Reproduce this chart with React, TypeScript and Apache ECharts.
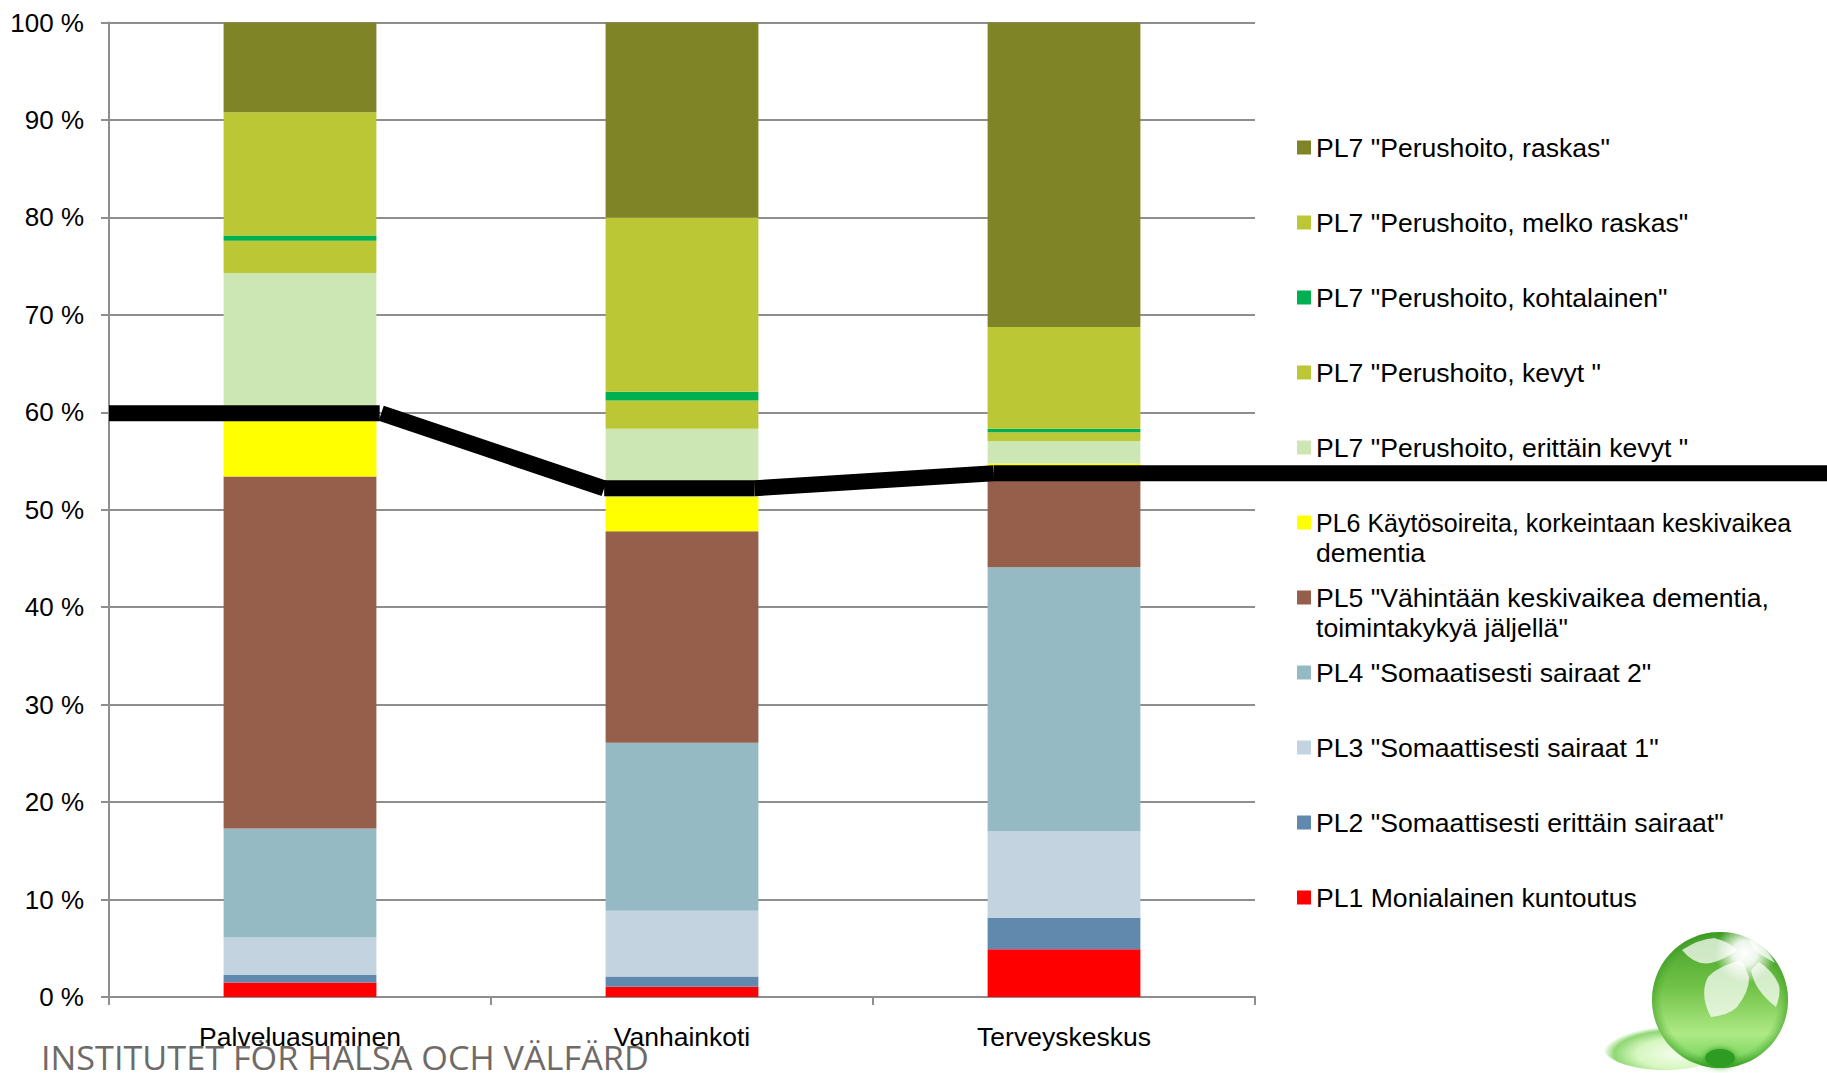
import React, { useEffect, useRef } from "react";
import * as echarts from "echarts";

const FONT = '"Liberation Sans", Arial, sans-serif';

const categories = ["Palveluasuminen", "Vanhainkoti", "Terveyskeskus"];
const tickStep = 10;

// Stacked shares in percent, bottom of the stack first.
const pl1 = [1.5, 1.05, 4.9];
const pl2 = [0.75, 1.05, 3.2];
const pl3 = [3.85, 6.75, 8.9];
const pl4 = [11.2, 17.25, 27.1];
const pl5 = [36.1, 21.7, 9.8];
const pl6 = [6.6, 3.5, 0.85];
const pl7VeryLight = [14.3, 7.0, 2.3];
const pl7Light = [3.3, 2.9, 0.9];
const pl7Moderate = [0.55, 0.9, 0.35];
const pl7FairlyHeavy = [12.65, 17.9, 10.45];
const pl7Heavy = [9.2, 20, 31.25];

const seriesNames = [
  "PL1 Monialainen kuntoutus",
  'PL2 "Somaattisesti erittäin sairaat"',
  'PL3 "Somaattisesti sairaat 1"',
  'PL4 "Somaatisesti sairaat 2"',
  'PL5 "Vähintään keskivaikea dementia, toimintakykyä jäljellä"',
  "PL6 Käytösoireita, korkeintaan keskivaikea dementia",
  'PL7 "Perushoito, erittäin kevyt "',
  'PL7 "Perushoito, kevyt "',
  'PL7 "Perushoito, kohtalainen"',
  'PL7 "Perushoito, melko raskas"',
  'PL7 "Perushoito, raskas"',
];
const seriesValues = [
  pl1, pl2, pl3, pl4, pl5, pl6, pl7VeryLight, pl7Light, pl7Moderate, pl7FairlyHeavy, pl7Heavy,
];
const seriesColors = [
  "#ff0000", "#6189ae", "#c3d3e0", "#95bac3", "#955f4b", "#ffff00",
  "#cde7b4", "#bcc736", "#00b050", "#bcc736", "#7f8427",
];

// Long legend entries break onto a second line. The leading empty line keeps the
// first line of text level with the swatch, since legend text centres on its swatch.
const wrappedLabels: Record<string, string> = {
  'PL5 "Vähintään keskivaikea dementia, toimintakykyä jäljellä"':
    '\nPL5 "Vähintään keskivaikea dementia,\ntoimintakykyä jäljellä"',
  "PL6 Käytösoireita, korkeintaan keskivaikea dementia":
    "\n{narrow|PL6 Käytösoireita, korkeintaan keskivaikea}\ndementia",
};

// The thick reference line, as separate butt-ended strokes; x counts category widths from the axis.
const referenceSegments: [number, number][][] = [
  [[0, 59.9], [0.709, 59.9]],
  [[0.713, 59.9], [1.297, 52.2]],
  [[1.297, 52.2], [1.691, 52.2]],
  [[1.691, 52.2], [2.317, 53.75]],
  [[2.317, 53.75], [4.5, 53.75]],
];

const footerText = "INSTITUTET FÖR HÄLSA OCH VÄLFÄRD";

echarts.graphic.registerShape(
  "logoPetals",
  echarts.graphic.extendPath(
    "M1680 950 Q1697 939 1712 938 Q1726 941 1735 950 Q1722 960 1709 963 Q1693 966 1680 950 Z " +
      "M1740 960 Q1716 966 1706 977 Q1697 995 1709 1017 Q1727 1015 1735 1007 Q1748 990 1747 977 Z " +
      "M1749 970 Q1752 990 1774 1007 Q1780 990 1776 983 Q1770 970 1757 962 Z " +
      "M1747 939 Q1762 943 1773 963 Q1762 957 1752 950 Z",
    {}
  )
);

function legendEntries() {
  // Each row gets its own legend so that rows keep an even pitch whatever their line count.
  const rowHeight = 30;
  const firstRow = 147.5;
  const pitch = 75;
  return seriesNames
    .map((name, i) => ({ name, row: seriesNames.length - 1 - i }))
    .map(({ name, row }) => {
      const boxHeight = wrappedLabels[name] ? rowHeight * 3 : rowHeight;
      return {
        show: true,
        left: 1297,
        top: firstRow + pitch * row - boxHeight / 2,
        padding: 0,
        itemWidth: 14,
        itemHeight: 14,
        icon: "rect",
        selectedMode: false,
        data: [name],
        formatter: (n: string) => wrappedLabels[n] ?? n,
        textStyle: {
          fontFamily: FONT,
          fontSize: 26.6,
          lineHeight: rowHeight,
          color: "#000",
          rich: { narrow: { fontFamily: FONT, fontSize: 25, lineHeight: rowHeight, color: "#000" } },
        },
      };
    });
}

function logoGraphics() {
  const cx = 1720;
  const cy = 1000;
  const r = 68;
  return [
    {
      type: "ellipse",
      shape: { cx: 1665, cy: 1047, rx: 62, ry: 23 },
      style: {
        fill: {
          type: "radial", x: 0.6, y: 0.65, r: 0.6,
          colorStops: [
            { offset: 0, color: "#f4fdec" },
            { offset: 0.55, color: "#d6f6c0" },
            { offset: 0.85, color: "#8fd873" },
            { offset: 1, color: "rgba(143,216,115,0)" },
          ],
        },
      },
    },
    {
      type: "circle",
      shape: { cx, cy, r },
      style: {
        fill: {
          type: "linear", x: 0, y: 0, x2: 0, y2: 1,
          colorStops: [
            { offset: 0, color: "#459f28" },
            { offset: 0.4, color: "#70c247" },
            { offset: 0.75, color: "#aee985" },
            { offset: 0.9, color: "#86da66" },
            { offset: 1, color: "#3fa92a" },
          ],
        },
      },
    },
    {
      type: "circle",
      shape: { cx, cy, r },
      style: {
        fill: {
          type: "radial", x: 0.5, y: 0.5, r: 0.5,
          colorStops: [
            { offset: 0, color: "rgba(60,160,40,0)" },
            { offset: 0.85, color: "rgba(60,160,40,0)" },
            { offset: 1, color: "rgba(50,150,30,0.5)" },
          ],
        },
      },
    },
    {
      type: "ellipse",
      shape: { cx, cy: 1058, rx: 15, ry: 9 },
      style: { fill: "#2f9c20", shadowBlur: 6, shadowColor: "#2f9c20" },
    },
    {
      type: "logoPetals",
      x: 2,
      y: 0,
      style: { fill: "rgba(255,255,255,0.72)" },
    },
    {
      type: "circle",
      shape: { cx: 1745, cy: 953, r: 30 },
      style: {
        fill: {
          type: "radial", x: 0.5, y: 0.5, r: 0.5,
          colorStops: [
            { offset: 0, color: "rgba(255,255,255,1)" },
            { offset: 0.4, color: "rgba(255,255,255,0.9)" },
            { offset: 1, color: "rgba(255,255,255,0)" },
          ],
        },
      },
    },
  ];
}

export default function App() {
  const ref = useRef<HTMLDivElement>(null);

  useEffect(() => {
    document.body.style.margin = "0";
    const chart = echarts.init(ref.current!, undefined, { renderer: "svg" });
    chart.setOption({
      animation: false,
      backgroundColor: "#fff",
      // The second grid runs to the page edge so the thick line can leave the plot area.
      grid: [
        { left: 109, top: 22.5, width: 1146, height: 974.5 },
        { left: 109, top: 22.5, width: 1718, height: 974.5 },
      ],
      legend: legendEntries(),
      xAxis: [
        {
          type: "category",
          data: categories,
          gridIndex: 0,
          axisLine: { lineStyle: { color: "#8e8e8e", width: 2 } },
          axisTick: { show: true, length: 8, lineStyle: { color: "#8e8e8e", width: 2 } },
          axisLabel: { fontFamily: FONT, fontSize: 26.5, color: "#000", margin: 26 },
        },
        { type: "value", gridIndex: 1, min: 0, max: 4.5, show: false },
      ],
      yAxis: [
        {
          type: "value",
          gridIndex: 0,
          min: 0,
          max: 100,
          interval: tickStep,
          axisLine: { show: true, lineStyle: { color: "#8e8e8e", width: 2 } },
          axisTick: { show: true, length: 8, lineStyle: { color: "#8e8e8e", width: 2 } },
          axisLabel: {
            fontFamily: FONT,
            fontSize: 26,
            color: "#000",
            margin: 25,
            formatter: "{value} %",
          },
          splitLine: { show: true, lineStyle: { color: "#8e8e8e", width: 2 } },
        },
        { type: "value", gridIndex: 1, min: 0, max: 100, show: false },
      ],
      series: [
        ...seriesNames.map((name, i) => ({
          name,
          type: "bar",
          stack: "care",
          barWidth: "40%",
          data: seriesValues[i],
          itemStyle: { color: seriesColors[i] },
        })),
        ...referenceSegments.map((points) => ({
          type: "line",
          xAxisIndex: 1,
          yAxisIndex: 1,
          data: points,
          symbol: "none",
          z: 5,
          lineStyle: { color: "#000", width: 16, cap: "butt" },
        })),
      ],
      graphic: [
        ...logoGraphics(),
        {
          type: "text",
          x: 41,
          y: 1044,
          scaleX: 1.07,
          style: {
            text: footerText,
            fontFamily: '"Open Sans", sans-serif',
            fontSize: 32,
            lineHeight: 28,
            fontWeight: 400,
            fill: "#6e6a68",
          },
        },
      ],
    });
    return () => chart.dispose();
  }, []);

  return (
    <div
      ref={ref}
      style={{ position: "absolute", left: 0, top: 0, width: 1827, height: 1073, overflow: "hidden" }}
    />
  );
}
